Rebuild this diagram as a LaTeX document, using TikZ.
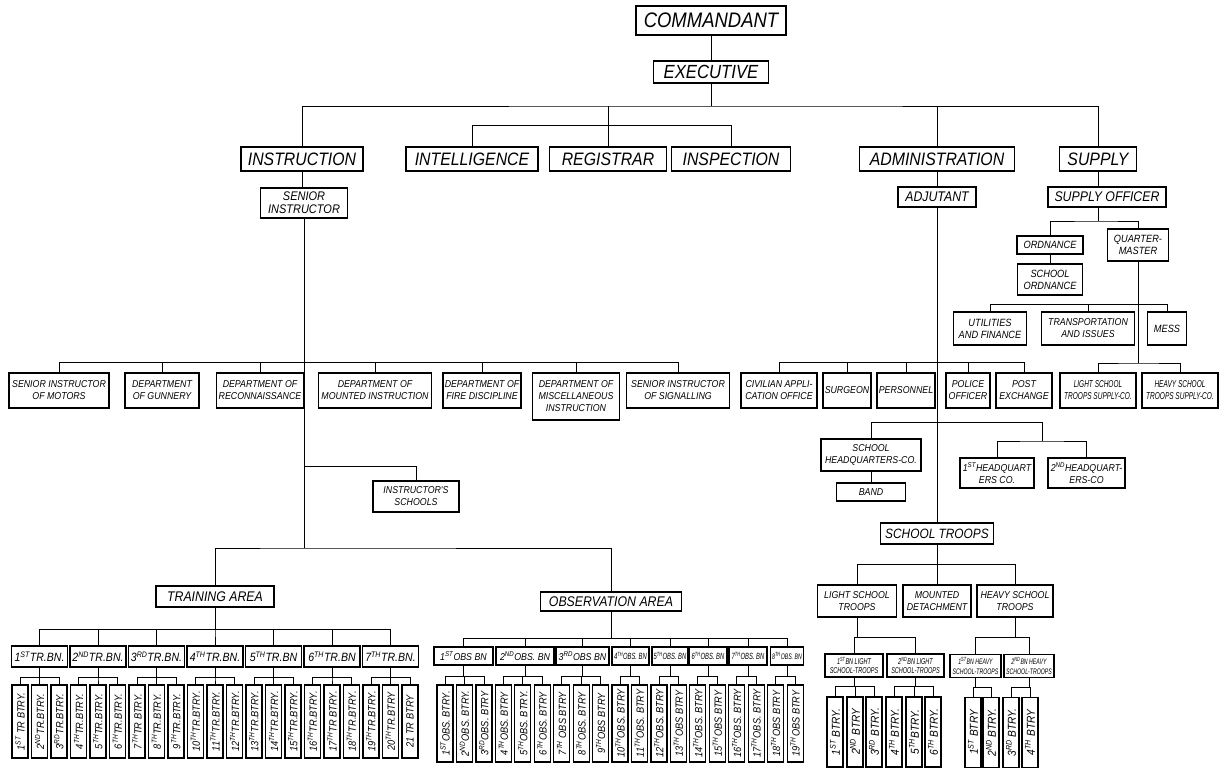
\documentclass[tikz,border=0pt]{standalone}
\usepackage{fontspec}
\newfontfamily\hand[FakeStretch=0.88]{Liberation Sans}
\newfontfamily\handn[FakeStretch=0.65]{Liberation Sans}
\usepackage{tikz}

\begin{document}
\begin{tikzpicture}[x=1pt,y=-1pt,
  box/.style={draw,line width=1.2pt,align=center,inner sep=1pt,fill=white},
  chiefbox/.style={box,font=\hand\itshape\fontsize{21}{23}\selectfont},
  headbox/.style={box,minimum height=24pt,font=\hand\itshape\fontsize{18}{20}\selectfont},
  midbox/.style={box,minimum height=20pt,font=\hand\itshape\fontsize{14}{15}\selectfont},
  deptbox/.style={box,minimum height=35pt,font=\hand\itshape\fontsize{10}{12}\selectfont},
  subbox/.style={box,font=\hand\itshape\fontsize{10.5}{12}\selectfont},
  areabox/.style={box,font=\hand\itshape\fontsize{14}{15}\selectfont},
  bnbox/.style={box,minimum height=21pt,inner sep=0.5pt,font=\hand\itshape\fontsize{12}{13}\selectfont},
  narrow/.style 2 args={inner sep=0.5pt,font=\handn\itshape\fontsize{#1}{#2}\selectfont},
  btbox/.style={box,rotate=90,minimum height=16pt,inner sep=0.5pt,font=\hand\itshape\fontsize{10.5}{11}\selectfont},
  wire/.style={line width=0.8pt}]

  \useasboundingbox (0,0) rectangle (1221,775);

  \node[chiefbox,minimum width=150pt,minimum height=29pt] (Co) at (711,20.5) {COMMANDANT};
  \node[chiefbox,minimum width=115pt,minimum height=22pt,font=\hand\itshape\fontsize{19}{21}\selectfont] (Ex) at (711,72) {EXECUTIVE};

  \node[headbox,minimum width=122pt] (In) at (302,159) {INSTRUCTION};
  \node[headbox,minimum width=132pt] (It) at (472,159) {INTELLIGENCE};
  \node[headbox,minimum width=117pt] (Rg) at (608,159) {REGISTRAR};
  \node[headbox,minimum width=119pt] (Is) at (731,159) {INSPECTION};
  \node[headbox,minimum width=155pt] (Ad) at (937,159) {ADMINISTRATION};
  \node[headbox,minimum width=77pt] (Su) at (1098,159) {SUPPLY};

  \coordinate (ExBr) at (711,106);
  \draw[wire] (Co) -- (Ex);
  \draw[wire] (Ex.south) -- (ExBr);
  \draw[wire] (In.north) |- (ExBr) -| (Su.north);
  \draw[wire] (Ad.north) -- (Ad.north |- ExBr);
  \draw[wire] (Rg.north) -- (Rg.north |- ExBr);
  \draw[wire] (It.north) -- ++(0,-21) -| (Is.north);

  \node[midbox,minimum width=87pt,minimum height=30pt,font=\hand\itshape\fontsize{12.5}{13}\selectfont] (SeIn) at (304,203) {SENIOR\\INSTRUCTOR};
  \node[midbox,minimum width=78pt] (Adj) at (937,197) {ADJUTANT};
  \node[midbox,minimum width=118pt] (SuOf) at (1107,197) {SUPPLY OFFICER};
  \draw[wire] (In.south) -- (In.south |- SeIn.north);
  \draw[wire] (Ad) -- (Adj);
  \draw[wire] (Su.south) -- (Su.south |- SuOf.north);

  % %Supply officer
  \node[subbox,minimum width=66pt,minimum height=18pt] (Or) at (1050,245) {ORDNANCE};
  \node[subbox,minimum width=61pt,minimum height=32pt] (QuMa) at (1138,245) {QUARTER-\\MASTER};
  \node[subbox,minimum width=65pt,minimum height=31pt] (ScOr) at (1050,279.5) {SCHOOL\\ORDNANCE};
  \node[subbox,minimum width=73pt,minimum height=33pt] (UtFi) at (990,328.5) {UTILITIES\\AND FINANCE};
  \node[subbox,minimum width=93pt,minimum height=33pt,font=\hand\itshape\fontsize{10}{12}\selectfont] (TrIs) at (1088,328.5) {TRANSPORTATION\\AND ISSUES};
  \node[subbox,minimum width=39pt,minimum height=33pt] (Me) at (1167,328.5) {MESS};

  \coordinate (SuBr) at (1098,221);
  \coordinate (QuBr) at (1138,363);
  \draw[wire] (Su.south |- SuOf.south) -- (SuBr);
  \draw[wire] (Or.north) |- (SuBr) -| (QuMa.north);
  \draw[wire] (Or) -- (ScOr);
  \draw[wire] (QuMa.south) -- (QuBr);
  \draw[wire] (UtFi.north) -- ++(0,-7) -| (Me.north);
  \draw[wire] (TrIs.north) -- ++(0,-7);

  % %Departments
  \node[deptbox,minimum width=100pt] (SeMo) at (59,390.5) {SENIOR INSTRUCTOR\\OF MOTORS};
  \node[deptbox,minimum width=74pt] (DeGu) at (162,390.5) {DEPARTMENT\\OF GUNNERY};
  \node[deptbox,minimum width=87pt] (DeRe) at (260,390.5) {DEPARTMENT OF\\RECONNAISSANCE};
  \node[deptbox,minimum width=113pt] (DeMo) at (375,390.5) {DEPARTMENT OF\\MOUNTED INSTRUCTION};
  \node[deptbox,minimum width=78pt] (DeFi) at (482,390.5) {DEPARTMENT OF\\FIRE DISCIPLINE};
  \node[deptbox,minimum width=87pt,minimum height=47pt] (DeMi) at (576,396.5) {DEPARTMENT OF\\MISCELLANEOUS\\INSTRUCTION};
  \node[deptbox,minimum width=103pt] (SeSi) at (678,390.5) {SENIOR INSTRUCTOR\\OF SIGNALLING};

  \node[deptbox,minimum width=76pt] (CiAp) at (779,390.5) {CIVILIAN APPLI-\\CATION OFFICE};
  \node[deptbox,minimum width=48pt] (Sg) at (847,390.5) {SURGEON};
  \node[deptbox,minimum width=58pt] (Pe) at (906,390.5) {PERSONNEL};
  \node[deptbox,minimum width=44pt] (PoOf) at (968,390.5) {POLICE\\OFFICER};
  \node[deptbox,minimum width=56pt] (PoEx) at (1024,390.5) {POST\\EXCHANGE};
  \node[deptbox,minimum width=76pt,narrow={10}{12}] (LiSu) at (1098,390.5) {LIGHT SCHOOL\\TROOPS SUPPLY-CO.};
  \node[deptbox,minimum width=76pt,narrow={10}{12}] (HeSu) at (1180,390.5) {HEAVY SCHOOL\\TROOPS SUPPLY-CO.};

  \draw[wire] (SeMo.north) -- ++(0,-10) -| (SeSi.north);
  \draw[wire] (DeGu.north) -- ++(0,-10);
  \draw[wire] (DeRe.north) -- ++(0,-10);
  \draw[wire] (DeMo.north) -- ++(0,-10);
  \draw[wire] (DeFi.north) -- ++(0,-10);
  \draw[wire] (DeMi.north) -- ++(0,-10);
  \draw[wire] (CiAp.north) -- ++(0,-10) -| (PoEx.north);
  \draw[wire] (Sg.north) -- ++(0,-10);
  \draw[wire] (Pe.north) -- ++(0,-10);
  \draw[wire] (PoOf.north) -- ++(0,-10);
  \draw[wire] (LiSu.north) |- (QuBr) -| (HeSu.north);

  % %Senior instructor down to the areas
  \node[deptbox,minimum width=86pt,minimum height=31pt] (InSc) at (416,496.5) {INSTRUCTOR'S\\SCHOOLS};
  \node[areabox,minimum width=118pt,minimum height=21pt] (TrAr) at (215,596.5) {TRAINING AREA};
  \node[areabox,minimum width=141pt,minimum height=19pt] (ObAr) at (611,601.5) {OBSERVATION AREA};

  \coordinate (ScBr) at (304,466);
  \coordinate (ArBr) at (304,548);
  \draw[wire] (SeIn.south) -- (ArBr);
  \draw[wire] (ScBr) -| (InSc.north);
  \draw[wire] (TrAr.north) |- (ArBr) -| (ObAr.north);

  % %Adjutant
  \node[deptbox,minimum width=100pt,minimum height=32pt] (ScHq) at (871,455) {SCHOOL\\HEADQUARTERS-CO.};
  \node[deptbox,minimum width=69pt,minimum height=18pt] (Ba) at (871,492) {BAND};
  \node[deptbox,minimum width=74pt,minimum height=30pt] (HqOne) at (997,473) {1\textsuperscript{ST}HEADQUART\\ERS CO.};
  \node[deptbox,minimum width=77pt,minimum height=30pt] (HqTwo) at (1086.5,473) {2\textsuperscript{ND}HEADQUART-\\ERS-CO};
  \node[midbox,minimum width=113pt,minimum height=21pt,font=\hand\itshape\fontsize{13.5}{15}\selectfont] (ScTr) at (937,533.5) {SCHOOL TROOPS};

  \coordinate (HqBr) at (1042,441);
  \draw[wire] (Adj.south) -- (ScTr.north);
  \draw[wire] (ScHq.north) -- ++(0,-16) -| (HqBr);
  \draw[wire] (HqOne.north) |- (HqBr) -| (HqTwo.north);
  \draw[wire] (ScHq) -- (Ba);

  % %School troops
  \node[deptbox,minimum width=79pt,minimum height=32pt] (LiTr) at (857,601) {LIGHT SCHOOL\\TROOPS};
  \node[deptbox,minimum width=68pt,minimum height=32pt] (MoDe) at (937,601) {MOUNTED\\DETACHMENT};
  \node[deptbox,minimum width=76pt,minimum height=32pt] (HeTr) at (1015,601) {HEAVY SCHOOL\\TROOPS};
  \draw[wire] (ScTr.south) -- ++(0,20) -| (LiTr.north);
  \draw[wire] (ScTr.south) -- ++(0,20) -| (HeTr.north);
  \draw[wire] (ScTr) -- (MoDe);

  \node[deptbox,minimum width=58pt,minimum height=23pt,narrow={8.5}{9.5}] (LiOne) at (854,665.5) {1\textsuperscript{ST}BN LIGHT\\SCHOOL-TROOPS};
  \node[deptbox,minimum width=57pt,minimum height=23pt,narrow={8.5}{9.5}] (LiTwo) at (915.5,665.5) {2\textsuperscript{ND}BN LIGHT\\SCHOOL-TROOPS};
  \node[deptbox,minimum width=51pt,minimum height=23pt,narrow={8}{9.5}] (HeOne) at (975.5,666) {1\textsuperscript{ST}BN HEAVY\\SCHOOL-TROOPS};
  \node[deptbox,minimum width=50pt,minimum height=23pt,narrow={8}{9.5}] (HeTwo) at (1029,666) {2\textsuperscript{ND}BN HEAVY\\SCHOOL-TROOPS};
  \draw[wire] (LiTr.south) -- ++(0,20) -| (LiOne.north);
  \draw[wire] (LiTr.south) -- ++(0,20) -| (LiTwo.north);
  \draw[wire] (HeTr.south) -- ++(0,20) -| (HeOne.north);
  \draw[wire] (HeTr.south) -- ++(0,20) -| (HeTwo.north);

  \foreach \k/\x/\t in {1/835/1\textsuperscript{ST} BTRY.,2/855/2\textsuperscript{ND} BTRY,3/874/3\textsuperscript{RD} BTRY.,
                        4/894/4\textsuperscript{TH} BTRY.,5/914/5\textsuperscript{TH}BTRY.,6/933/6\textsuperscript{TH} BTRY.}
    \node[btbox,minimum width=70pt,font=\hand\itshape\fontsize{11.5}{12}\selectfont] (LiBt\k) at (\x,732) {\t};
  \foreach \k/\x/\t in {1/973/1\textsuperscript{ST} BTRY,2/991/2\textsuperscript{ND} BTRY.,3/1011/3\textsuperscript{RD} BTRY.,4/1030/4\textsuperscript{TH} BTRY}
    \node[btbox,minimum width=70pt,font=\hand\itshape\fontsize{11.5}{12}\selectfont] (HeBt\k) at (\x,732.5) {\t};
  \foreach \k in {1,2,3} \draw[wire] (LiOne.south) -- ++(0,9) -| (LiBt\k.east);
  \foreach \k in {4,5,6} \draw[wire] (LiTwo.south) -- ++(0,9) -| (LiBt\k.east);
  \foreach \k in {1,2} \draw[wire] (HeOne.south) -- ++(0,9) -| (HeBt\k.east);
  \foreach \k in {3,4} \draw[wire] (HeTwo.south) -- ++(0,9) -| (HeBt\k.east);

  % %Training battalions
  \node[bnbox,minimum width=56pt] (TrBn1) at (39.5,656.5) {1\textsuperscript{ST}TR.BN.};
  \node[bnbox,minimum width=56pt] (TrBn2) at (98,656.5) {2\textsuperscript{ND}TR.BN.};
  \node[bnbox,minimum width=56pt] (TrBn3) at (156.5,656.5) {3\textsuperscript{RD}TR.BN.};
  \node[bnbox,minimum width=56pt] (TrBn4) at (215,656.5) {4\textsuperscript{TH}TR.BN.};
  \node[bnbox,minimum width=56pt] (TrBn5) at (273.5,656.5) {5\textsuperscript{TH}TR.BN};
  \node[bnbox,minimum width=56pt] (TrBn6) at (332,656.5) {6\textsuperscript{TH}TR.BN};
  \node[bnbox,minimum width=56pt] (TrBn7) at (390.5,656.5) {7\textsuperscript{TH}TR.BN.};
  \foreach \b in {1,...,7} \draw[wire] (TrAr.south) -- ++(0,22) -| (TrBn\b.north);

  \foreach \k/\t in {1/1\textsuperscript{ST} TR BTRY.,2/2\textsuperscript{ND}TR.BTRY.,3/3\textsuperscript{RD}TR.BTRY.,
      4/4\textsuperscript{TH}TR.BTRY.,5/5\textsuperscript{TH}TR.BTRY.,6/6\textsuperscript{TH}TR.BTRY.,
      7/7\textsuperscript{TH}TR BTRY.,8/8\textsuperscript{TH}TR.BTRY.,9/9\textsuperscript{TH}TR.BTRY.,
      10/10\textsuperscript{TH}TR.BTRY.,11/11\textsuperscript{TH}TR.BTRY.,12/12\textsuperscript{TH}TR.BTRY.,
      13/13\textsuperscript{TH}TR.BTRY.,14/14\textsuperscript{TH}TR.BTRY.,15/15\textsuperscript{TH}TR.BTRY.,
      16/16\textsuperscript{TH}TR.BTRY.,17/17\textsuperscript{TH}TR BTRY.,18/18\textsuperscript{TH}TR.BTRY.,
      19/19\textsuperscript{TH}TR.BTRY.,20/20\textsuperscript{TH}TR.BTRY,21/21 TR BTRY}
    \node[btbox,minimum width=73pt] (TrBt\k) at ({20+19.5*(\k-1)},721.5) {\t};
  \foreach \b in {1,...,7} \foreach \j in {1,2,3} {
    \pgfmathtruncatemacro\k{3*\b-3+\j}
    \draw[wire] (TrBn\b.south) -- ++(0,10) -| (TrBt\k.east);
  }

  % %Observation battalions
  \node[bnbox,minimum width=59pt,minimum height=18pt,font=\hand\itshape\fontsize{10}{11}\selectfont] (ObBn1) at (463.5,656) {1\textsuperscript{ST}OBS BN};
  \node[bnbox,minimum width=58pt,minimum height=18pt,font=\hand\itshape\fontsize{10}{11}\selectfont] (ObBn2) at (525,656) {2\textsuperscript{ND}OBS. BN};
  \node[bnbox,minimum width=53pt,minimum height=18pt,font=\hand\itshape\fontsize{10}{11}\selectfont] (ObBn3) at (582.5,656) {3\textsuperscript{RD}OBS BN};
  \node[bnbox,minimum width=37pt,minimum height=18pt,narrow={9}{10}] (ObBn4) at (630.5,656) {4\textsuperscript{TH}OBS. BN};
  \node[bnbox,minimum width=36pt,minimum height=18pt,narrow={9}{10}] (ObBn5) at (670,656) {5\textsuperscript{TH}OBS. BN};
  \node[bnbox,minimum width=38pt,minimum height=18pt,narrow={9}{10}] (ObBn6) at (708,656) {6\textsuperscript{TH}OBS. BN};
  \node[bnbox,minimum width=38pt,minimum height=18pt,narrow={9}{10}] (ObBn7) at (748,656) {7\textsuperscript{TH}OBS. BN};
  \node[bnbox,minimum width=33pt,minimum height=18pt,narrow={8}{10}] (ObBn8) at (787,656) {8\textsuperscript{TH}OBS. BN};
  \foreach \b in {1,...,8} \draw[wire] (ObAr.south) -- ++(0,27) -| (ObBn\b.north);

  \foreach \k/\t in {1/1\textsuperscript{ST}OBS. BTRY.,2/2\textsuperscript{ND}OBS. BTRY.,3/3\textsuperscript{RD}OBS. BTRY,
      4/4\textsuperscript{TH}OBS. BTRY,5/5\textsuperscript{TH}OBS. BTRY.,6/6\textsuperscript{TH}OBS. BTRY,
      7/7\textsuperscript{TH} OBS BTRY,8/8\textsuperscript{TH}OBS. BTRY,9/9\textsuperscript{TH}OBS BTRY,
      10/10\textsuperscript{TH}OBS. BTRY,11/11\textsuperscript{TH}OBS. BTRY,12/12\textsuperscript{TH}OBS. BTRY,
      13/13\textsuperscript{TH}OBS BTRY,14/14\textsuperscript{TH}OBS. BTRY,15/15\textsuperscript{TH}OBS BTRY,
      16/16\textsuperscript{TH}OBS. BTRY,17/17\textsuperscript{TH}OBS. BTRY,18/18\textsuperscript{TH}OBS BTRY,
      19/19\textsuperscript{TH}OBS BTRY}
    \node[btbox,minimum width=77pt] (ObBt\k) at ({445+19.45*(\k-1)},723.5) {\t};
  \foreach \b/\k in {1/1,1/2,1/3,2/4,2/5,2/6,3/7,3/8,3/9,4/10,4/11,5/12,5/13,6/14,6/15,7/16,7/17,8/18,8/19}
    \draw[wire] (ObBn\b.south) -- ++(0,11) -| (ObBt\k.east);

\end{tikzpicture}
\end{document}
